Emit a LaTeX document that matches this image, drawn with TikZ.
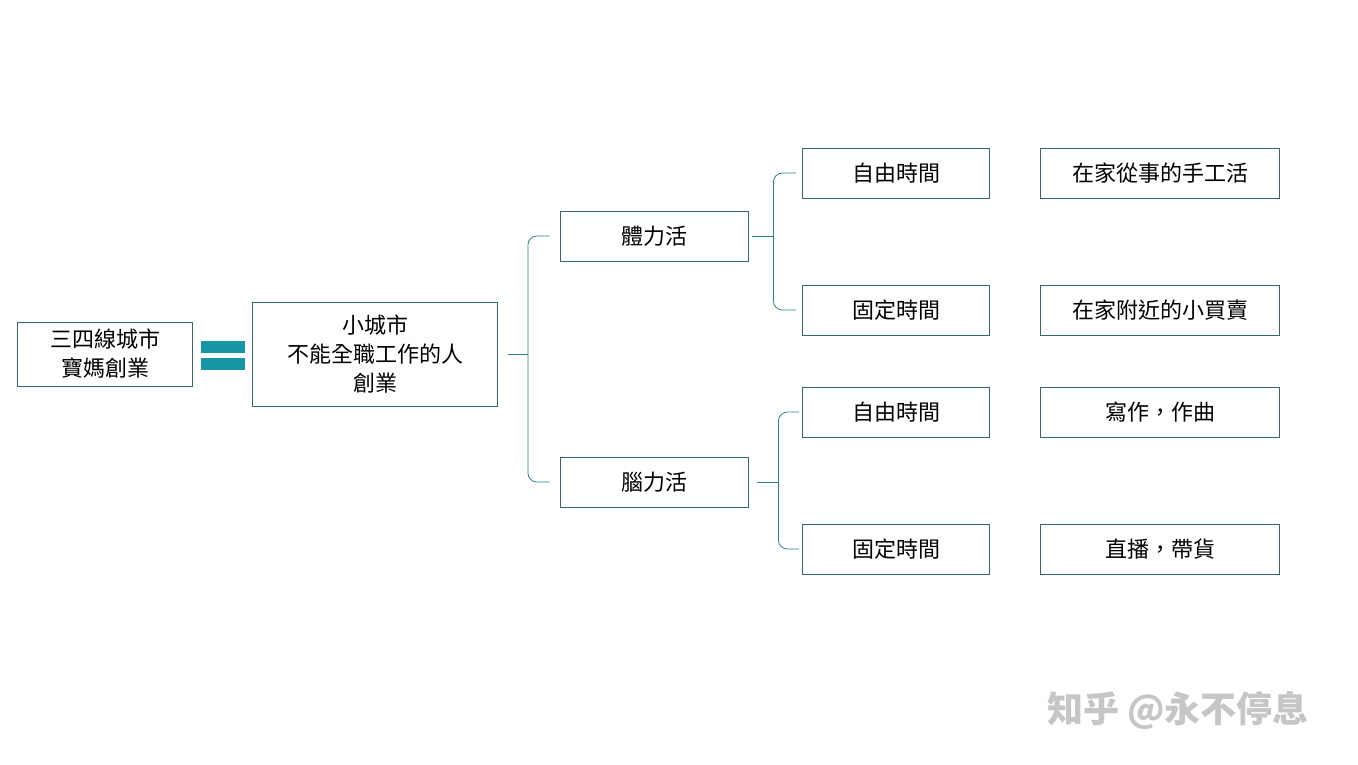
\documentclass[tikz,border=0pt]{standalone}
\usepackage{fontspec}
\setmainfont{Noto Sans CJK TC}
\usetikzlibrary{positioning,calc}
\definecolor{tealbar}{RGB}{23,150,165}
\definecolor{tealline}{RGB}{45,130,140}
\definecolor{boxline}{RGB}{50,105,115}
\tikzset{
    box/.style={
        draw=boxline,
        thick,
        fill=white,
        align=center,
        font=\fontsize{22}{29}\selectfont,
        inner sep=0pt,
    },
    link/.style={
        draw=tealline,
        thick,
        rounded corners=9pt,
    },
}
\begin{document}
\begin{tikzpicture}[x=1pt,y=-1pt]
    \useasboundingbox (0,0) rectangle (1358,765);
    \node [box,minimum width=175,minimum height=64] (city) at (105,354) {三四線城市\\寶媽創業};
    \node [box,minimum width=245,minimum height=104] (small) at (375,354) {小城市\\不能全職工作的人\\創業};
    \node [box,minimum width=188,minimum height=50] (body) at (654,236) {體力活};
    \node [box,minimum width=188,minimum height=50] (brain) at (654,482) {腦力活};
    \node [box,minimum width=187,minimum height=50] (free1) at (896,173) {自由時間};
    \node [box,minimum width=187,minimum height=50] (fixed1) at (896,310) {固定時間};
    \node [box,minimum width=187,minimum height=50] (free2) at (896,412) {自由時間};
    \node [box,minimum width=187,minimum height=50] (fixed2) at (896,549) {固定時間};
    \node [box,minimum width=239,minimum height=50] (craft) at (1160,173) {在家從事的手工活};
    \node [box,minimum width=239,minimum height=50] (shop) at (1160,310) {在家附近的小買賣};
    \node [box,minimum width=239,minimum height=50] (write) at (1160,412) {寫作，作曲};
    \node [box,minimum width=239,minimum height=50] (live) at (1160,549) {直播，帶貨};

    % equals sign
    \fill[tealbar] (201,341) rectangle (245,353);
    \fill[tealbar] (201,358) rectangle (245,370);

    % braces
    \coordinate (sp1) at ($(small.east)+(30,0)$);
    \coordinate (sp2) at ($(body.east)+(25,0)$);
    \coordinate (sp3) at ($(brain.east)+(30,0)$);
    \draw[link] ([xshift=-10]body.west) -| (sp1) |- ([xshift=-10]brain.west);
    \draw[link,rounded corners=0pt] ([xshift=10]small.east) -- (sp1);
    \draw[link] ([xshift=-6]free1.west) -| (sp2) |- ([xshift=-6]fixed1.west);
    \draw[link,rounded corners=0pt] ([xshift=4]body.east) -- (sp2);
    \draw[link] ([xshift=-3]free2.west) -| (sp3) |- ([xshift=-3]fixed2.west);
    \draw[link,rounded corners=0pt] ([xshift=9]brain.east) -- (sp3);

    \node [text=gray!45,font=\fontsize{36}{36}\selectfont\bfseries] (mark) at (1178,710) {知乎 @永不停息};
\end{tikzpicture}
\end{document}
